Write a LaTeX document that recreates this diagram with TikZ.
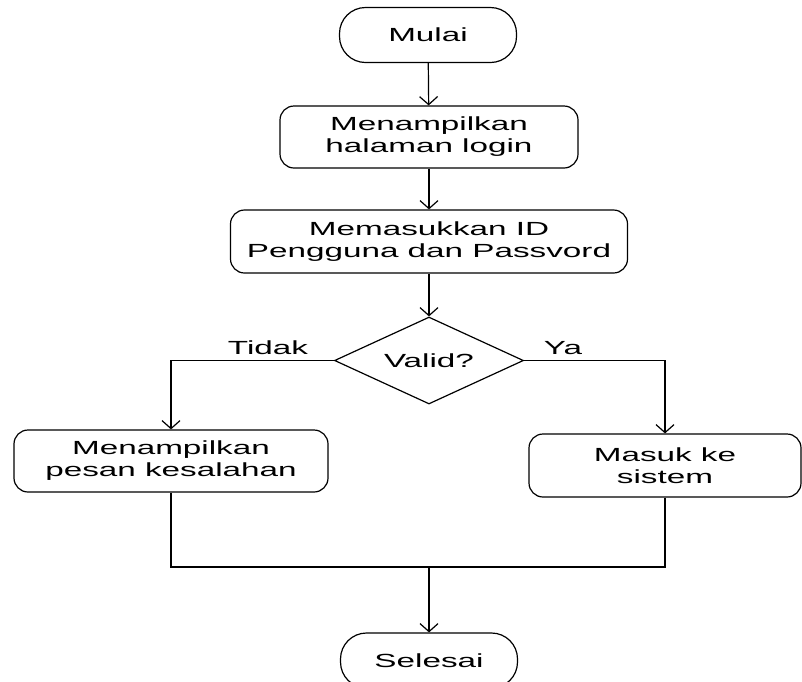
\documentclass[tikz,border=0pt]{standalone}
\usepackage{fontspec}
\setmainfont{Liberation Sans}[FakeStretch=1.75]
\usepackage{tikz}
\usetikzlibrary{positioning,shapes.geometric,arrows.meta}

\tikzset{
	alur/.style={draw, line width=1.2pt, font=\fontsize{19}{22}\selectfont, align=center, inner sep=0pt},
	terminal/.style={alur, rectangle, rounded corners=26pt, minimum width=177pt, minimum height=55pt},
	proses/.style={alur, rectangle, rounded corners=14pt},
	keputusan/.style={alur, diamond, shape aspect=2.17, minimum width=189pt, minimum height=87pt},
	label/.style={font=\fontsize{19}{22}\selectfont, inner sep=0pt},
	panah/.style={line width=1.2pt, -{Straight Barb[length=8pt,width=18pt,line width=1.2pt]}},
	garis/.style={line width=1.2pt}
}

\begin{document}
\begin{tikzpicture}[x=1pt, y=-1pt]
	\useasboundingbox (0,0) rectangle (802,681);
	\node[terminal] (mulai) at (428,35) {Mulai};
	\node[proses, minimum width=298pt, minimum height=62pt] (tampil) at (429,137) {Menampilkan\\halaman login};
	\node[proses, minimum width=397pt, minimum height=63pt] (masuk) at (429,241.5) {Memasukkan ID\\Pengguna dan Passvord};
	\node[keputusan] (valid) at (429,360.5) {Valid?};
	\node[proses, minimum width=314pt, minimum height=62pt] (gagal) at (171,461) {Menampilkan\\pesan kesalahan};
	\node[proses, minimum width=272pt, minimum height=63pt] (sukses) at (665,465.5) {Masuk ke\\sistem};
	\node[terminal] (selesai) at (429,660.5) {Selesai};
	\node[label] (tidak) at (268,348) {Tidak};
	\node[label] (ya) at (563,348) {Ya};
	\coordinate (gabung) at (429,567);
	\draw[panah] (mulai) -- (tampil);
	\draw[panah] (tampil) -- (masuk);
	\draw[panah] (masuk) -- (valid);
	\draw[panah] (valid.west) -| (gagal.north);
	\draw[panah] (valid.east) -| (sukses.north);
	\draw[garis] (gagal.south) |- (gabung);
	\draw[garis] (sukses.south) |- (gabung);
	\draw[panah] (gabung) -- (selesai);
\end{tikzpicture}
\end{document}
